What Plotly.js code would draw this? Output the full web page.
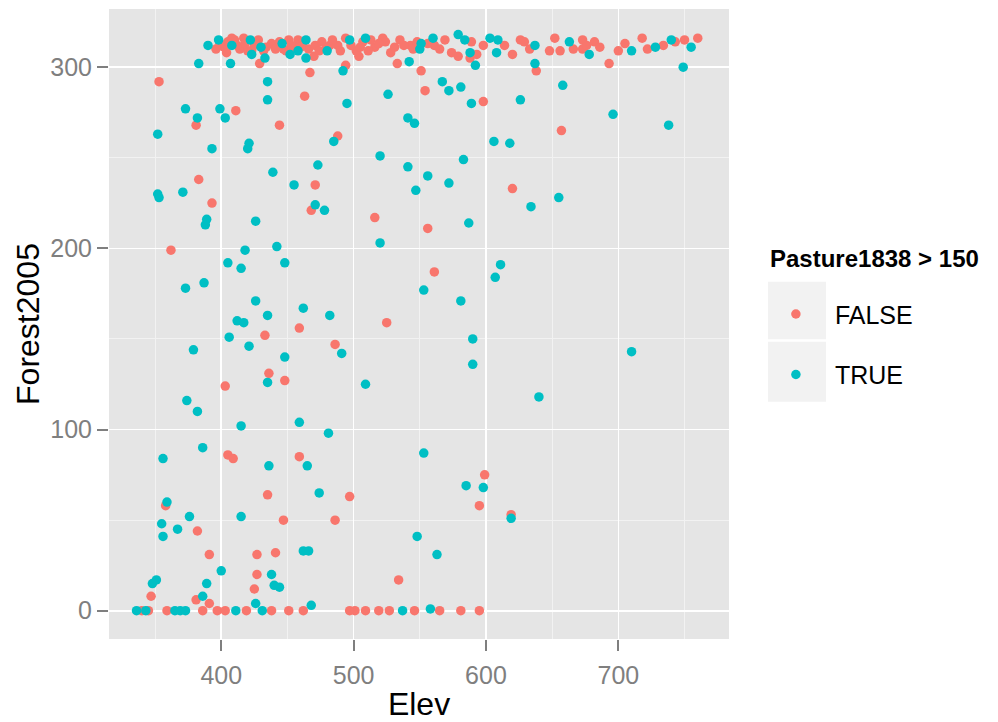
<!DOCTYPE html>
<html>
<head>
<meta charset="utf-8">
<script src="https://cdn.plot.ly/plotly-3.0.1.min.js"></script>
<style>html,body{margin:0;padding:0;background:#fff;}#chart{width:998px;height:722px;}</style>
</head>
<body>
<div id="chart"></div>
<script>
// Series: Pasture1838 > 150 == FALSE
const falseElev = [340,345,359,386,397,403,419,438,451,462,497,501,509,519,527,546,565,581,595,
  347,381,391,425,427,391,427,441,382,447,358,435,405,409,459,403,436,448,599,497,595,486,619,534,
  353,381,411,463,444,488,383,471,393,468,362,459,433,486,554,598,620,516,556,561,525,657,
  396,402,410,414,420,425,429,438,451,458,441,466,471,476,479,467,470,482,488,502,504,507,516,524,528,535,543,533,545,551,561,569,574,579,588,593,589,598,614,620,626,629,633,494,522,494,638,652,648,656,666,673,673,682,686,693,700,705,718,722,734,743,750,760,676,405,417,432,447,455,462,
  399,404,408,412,418,423,428,434,444,449,453,460,474,484,490,498,505,511,513,519,531,538,548,556,565];
const falseForest = [0,0,0,0,0,0,0,0,0,0,0,0,0,0,0,0,0,0,0,
  8,6,4,12,20,31,31,32,44,50,58,64,86,84,85,124,131,127,75,63,58,50,53,17,
  292,268,276,284,268,262,238,235,225,221,199,156,152,147,287,281,233,217,211,187,159,265,
  310,311,315,310,309,312,302,313,315,315,310,310,312,314,310,297,306,312,312,309,306,314,311,314,308,315,312,302,310,298,312,315,308,306,305,307,314,312,312,307,315,314,310,316,316,301,298,316,309,309,310,315,310,314,311,302,309,313,316,310,312,314,315,316,312,314,316,309,310,311,314,
  313,308,316,312,313,309,315,311,314,309,312,311,309,315,309,312,311,309,315,313,311,312,314,313,310];

// Series: Pasture1838 > 150 == TRUE
const trueElev = [336,343,365,369,373,411,431,537,558,468,426,386,348,351,389,400,438,440,444,462,466,355,356,367,376,415,359,474,436,465,356,386,481,415,459,374,382,435,448,
  590,509,553,585,598,619,548,563,640,
  435,373,382,399,403,435,352,393,421,420,485,473,439,455,352,353,371,471,478,389,388,426,418,442,405,415,448,373,387,426,435,462,482,412,417,406,379,421,491,
  495,526,567,572,581,589,626,541,546,606,618,520,583,541,556,572,547,634,587,520,611,607,553,581,590,
  658,696,738,655,710,749,
  383,390,398,408,407,422,423,430,433,446,452,458,464,464,480,497,509,492,542,551,550,560,579,584,588,592,603,609,608,637,637,663,678,710,728,740,755];
const trueForest = [0,0,0,0,0,0,0,0,1,3,4,8,15,17,15,22,20,14,13,33,33,48,41,45,52,52,60,65,80,80,84,90,98,102,104,116,110,126,140,
  136,125,87,69,68,51,41,31,118,
  292,277,272,277,272,282,263,255,258,255,259,246,242,235,230,228,231,224,221,216,213,215,199,201,192,189,192,178,181,171,163,167,163,160,159,151,144,146,142,
  280,285,292,287,289,280,282,272,269,259,258,251,249,245,240,236,232,223,214,203,191,184,177,171,150,
  290,274,268,228,143,300,
  302,312,315,312,302,315,307,311,305,313,307,309,315,305,309,315,316,298,303,313,310,316,318,315,308,301,316,315,308,312,302,314,307,309,311,315,311];

const seriesNames = ['FALSE', 'TRUE'];
const seriesColors = ['#F8766D', '#00BFC4'];
const legendTitle = 'Pasture1838 &gt; 150';
const xTicks = [400, 500, 600, 700];
const yTicks = [0, 100, 200, 300];
const xTitle = 'Elev';
const yTitle = 'Forest2005';

const FONT = 'Liberation Sans, Arial, Helvetica, sans-serif';

const traces = [
  {x: falseElev, y: falseForest, name: seriesNames[0], legendgroup: 'f'},
  {x: trueElev, y: trueForest, name: seriesNames[1], legendgroup: 't'}
].map((t, i) => Object.assign(t, {
  type: 'scatter', mode: 'markers',
  marker: {color: seriesColors[i], size: 9.5, line: {width: 0}},
  hoverinfo: 'x+y'
}));

const keyBox = (top, bottom) => ({
  type: 'rect', xref: 'paper', yref: 'paper',
  xsizemode: 'pixel', ysizemode: 'pixel', xanchor: 1, yanchor: 1,
  x0: 39, x1: 97, y0: -(top - 9), y1: -(bottom - 9),
  fillcolor: '#F2F2F2', line: {width: 0}, layer: 'below'
});

const layout = {
  width: 998, height: 722,
  margin: {l: 109, r: 269, t: 9, b: 83, pad: 0},
  paper_bgcolor: '#FFFFFF', plot_bgcolor: '#E5E5E5',
  font: {family: FONT, color: '#000'},
  showlegend: true,
  xaxis: {
    range: [315.2, 783.6], tickvals: xTicks, ticktext: xTicks.map(String),
    showgrid: true, gridcolor: '#FFFFFF', gridwidth: 1.6,
    minor: {dtick: 50, tick0: 0, showgrid: true, gridcolor: '#F2F2F2', gridwidth: 1, ticks: ''},
    zeroline: false, showline: false,
    ticks: 'outside', ticklen: 11, tickwidth: 2, tickcolor: '#7F7F7F',
    ticklabelstandoff: 3,
    tickfont: {family: FONT, size: 25, color: '#7F7F7F'},
    title: {text: xTitle, font: {family: FONT, size: 32, color: '#000'}, standoff: 9},
    automargin: false, fixedrange: true
  },
  yaxis: {
    range: [-15.6, 332.1], tickvals: yTicks, ticktext: yTicks.map(String),
    showgrid: true, gridcolor: '#FFFFFF', gridwidth: 1.6,
    minor: {dtick: 50, tick0: 0, showgrid: true, gridcolor: '#F2F2F2', gridwidth: 1, ticks: ''},
    zeroline: false, showline: false,
    ticks: 'outside', ticklen: 11, tickwidth: 2, tickcolor: '#7F7F7F',
    tickfont: {family: FONT, size: 25, color: '#7F7F7F'},
    title: {text: yTitle, font: {family: FONT, size: 32, color: '#000'}, standoff: 1},
    automargin: false, fixedrange: true
  },
  legend: {
    x: 1.045, xanchor: 'left', y: 0.552, yanchor: 'top',
    bgcolor: 'rgba(0,0,0,0)', borderwidth: 0,
    font: {family: FONT, size: 25, color: '#000'},
    itemwidth: 68, traceorder: 'grouped', tracegroupgap: 25,
    itemclick: false, itemdoubleclick: false
  },
  annotations: [{
    text: '<b>' + legendTitle + '</b>', xref: 'paper', yref: 'paper',
    x: 1 + (768 - 729) / 620, y: (639 - 258.5) / 630, xanchor: 'left', yanchor: 'middle',
    showarrow: false, font: {family: FONT, size: 24, color: '#000'}
  }],
  shapes: [keyBox(281.7, 339.3), keyBox(341.7, 401.7)]
};

Plotly.newPlot('chart', traces, layout, {displayModeBar: false, staticPlot: true});
</script>
</body>
</html>
